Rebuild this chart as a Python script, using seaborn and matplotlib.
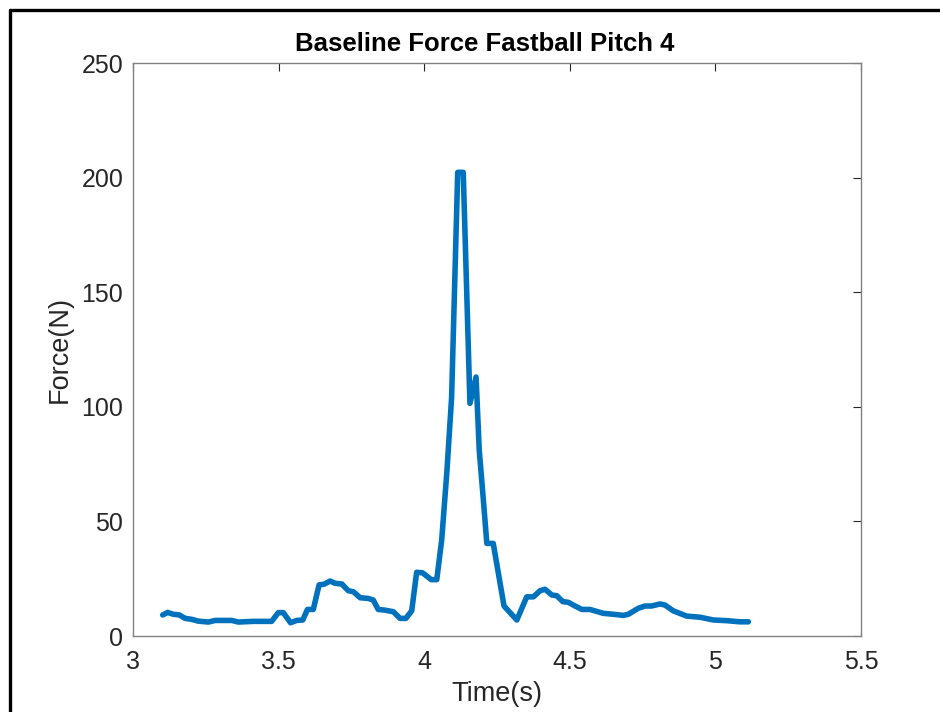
import numpy as np
import pandas as pd
import matplotlib
matplotlib.use("Agg")
import matplotlib.pyplot as plt
import seaborn as sns
from matplotlib.lines import Line2D

# datos (tiempo en s, fuerza en N)
tiempo = [3.102, 3.119, 3.138, 3.159, 3.179, 3.201, 3.224, 3.259, 3.282, 3.339,
          3.362, 3.413, 3.476, 3.499, 3.516, 3.541, 3.562, 3.583, 3.599, 3.619,
          3.639, 3.656, 3.677, 3.694, 3.717, 3.739, 3.757, 3.780, 3.808, 3.825,
          3.842, 3.865, 3.894, 3.917, 3.937, 3.957, 3.974, 3.994, 4.024, 4.043,
          4.060, 4.078, 4.094, 4.115, 4.134, 4.157, 4.178, 4.189, 4.203, 4.215,
          4.237, 4.274, 4.318, 4.352, 4.375, 4.398, 4.415, 4.438, 4.455, 4.476,
          4.495, 4.518, 4.541, 4.569, 4.615, 4.649, 4.684, 4.701, 4.735, 4.758,
          4.781, 4.810, 4.827, 4.855, 4.901, 4.947, 4.993, 5.039, 5.084, 5.113]
fuerza = [9.2, 10.3, 9.5, 9.2, 7.7, 7.3, 6.5, 6.1, 6.8, 6.8,
          6.1, 6.4, 6.4, 10.2, 10.2, 5.8, 6.8, 7.0, 11.6, 11.6,
          22.3, 22.6, 24.0, 23.0, 22.7, 19.8, 19.3, 16.7, 16.4, 15.7,
          11.6, 11.3, 10.6, 7.7, 7.7, 11.0, 27.8, 27.6, 24.6, 24.6,
          41.9, 72.0, 104.0, 202.3, 202.3, 101.5, 113.0, 81.0, 59.5, 40.4,
          40.4, 13.1, 7.0, 17.1, 17.1, 19.8, 20.4, 17.9, 17.6, 15.0,
          14.7, 13.1, 11.6, 11.6, 9.9, 9.5, 9.0, 9.5, 12.1, 13.1,
          13.1, 14.0, 13.5, 11.0, 8.7, 8.2, 7.0, 6.7, 6.2, 6.2]

df = pd.DataFrame({"Time": tiempo, "Force": fuerza})

sns.set_style("white")
plt.rcParams['font.family'] = ['Liberation Sans', 'DejaVu Sans']

fig = plt.figure(figsize=(9.4, 7.12), dpi=100)
ax = fig.add_axes([0.1415, 0.1067, 0.916 - 0.1415, 0.9115 - 0.1067])

sns.lineplot(data=df, x="Time", y="Force", ax=ax, color="#0072BD",
             linewidth=4, estimator=None, sort=False)

ax.set_xlim(3, 5.5)
ax.set_ylim(0, 250)
ax.set_xticks([3, 3.5, 4, 4.5, 5, 5.5])
ax.set_xticklabels(["3", "3.5", "4", "4.5", "5", "5.5"])
ax.set_yticks([0, 50, 100, 150, 200, 250])

gris = "#262626"
for s in ax.spines.values():
    s.set_visible(True)
    s.set_color("#808080")
    s.set_linewidth(1.0)
ax.tick_params(direction="in", length=6, width=0.8, color=gris,
               labelsize=18, labelcolor=gris, top=True, right=True)
ax.tick_params(axis="x", pad=10)
ax.tick_params(axis="y", pad=7)

ax.set_title("Baseline Force Fastball Pitch 4", fontsize=18.5, fontweight="bold",
             color="black", pad=9, x=0.483)
ax.set_xlabel("Time(s)", fontsize=19.5, color=gris, labelpad=5)
ax.set_ylabel("Force(N)", fontsize=19.5, color=gris, labelpad=6)

# marco negro de la captura (solo arriba e izquierda)
W, H = 940, 712
fig.add_artist(Line2D([10 / W, 1.0], [1 - 10 / H, 1 - 10 / H], color="black",
                      linewidth=2.4, transform=fig.transFigure))
fig.add_artist(Line2D([10 / W, 10 / W], [0.0, 1 - 10 / H], color="black",
                      linewidth=2.4, transform=fig.transFigure))

fig.savefig("out.png", dpi=100)
